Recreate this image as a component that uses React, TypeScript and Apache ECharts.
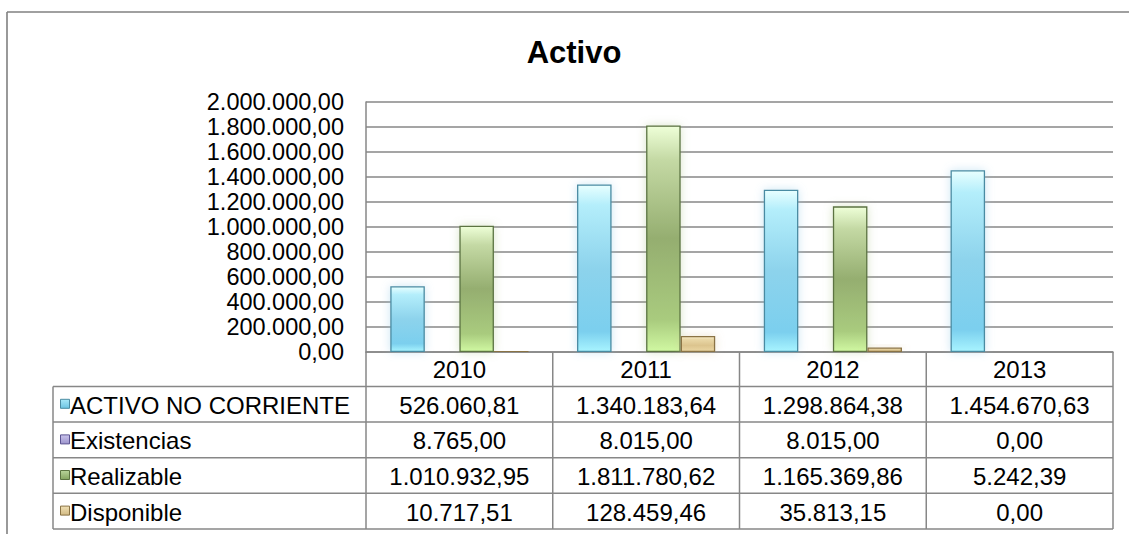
import React, { useEffect, useRef } from "react";
import * as echarts from "echarts";

const categories = ["2010", "2011", "2012", "2013"];
const seriesNames = ["ACTIVO NO CORRIENTE", "Existencias", "Realizable", "Disponible"];
const activoNoCorriente = [526060.81, 1340183.64, 1298864.38, 1454670.63];
const existencias = [8765.0, 8015.0, 8015.0, 0.0];
const realizable = [1010932.95, 1811780.62, 1165369.86, 5242.39];
const disponible = [10717.51, 128459.46, 35813.15, 0.0];
const yMin = 0;
const yMax = 2000000;
const yInterval = 200000;

const FONT = 'Arial, "Liberation Sans", sans-serif';

function fmt(v: number): string {
  const [i, d] = Math.abs(v).toFixed(2).split(".");
  const g = i.replace(/\B(?=(\d{3})+(?!\d))/g, ".");
  return (v < 0 ? "-" : "") + g + "," + d;
}

const grad = (stops: [number, string][]) => ({
  type: "linear",
  x: 0,
  y: 0,
  x2: 0,
  y2: 1,
  colorStops: stops.map(([offset, color]) => ({ offset, color })),
});

const styles = [
  {
    fill: grad([
      [0, "#e8ffff"],
      [0.12, "#b4eefb"],
      [0.5, "#8dd3ec"],
      [0.88, "#7bcfee"],
      [1, "#a8f4ff"],
    ]),
    border: "#4a8ba2",
    key: grad([[0, "#a8e8f8"], [1, "#6cc4e2"]]),
    shadow: "rgba(140,200,230,0.45)",
  },
  {
    fill: grad([
      [0, "#cfc8f0"],
      [0.5, "#a39bd0"],
      [1, "#b8b0e6"],
    ]),
    border: "#5b5391",
    key: grad([[0, "#cac4ec"], [1, "#9c94cc"]]),
    shadow: "rgba(160,150,210,0.35)",
  },
  {
    fill: grad([
      [0, "#eeffd8"],
      [0.15, "#c4d9a4"],
      [0.5, "#95ae70"],
      [0.86, "#a9cb7e"],
      [1, "#d0f8a2"],
    ]),
    border: "#5b7342",
    key: grad([[0, "#b8d49a"], [1, "#84a460"]]),
    shadow: "rgba(160,190,120,0.4)",
  },
  {
    fill: grad([
      [0, "#f7ebc6"],
      [0.2, "#e9d7a6"],
      [0.6, "#dcc48e"],
      [1, "#ead6a2"],
    ]),
    border: "#8a7344",
    key: grad([[0, "#f0e0b4"], [1, "#d2ba84"]]),
    shadow: "rgba(210,190,140,0.4)",
  },
];

const seriesData = [activoNoCorriente, existencias, realizable, disponible];

// layout
const W = 1129;
const H = 534;
const gridLeft = 366;
const gridRight = 1113;
const gridTop = 102;
const gridBottom = 352;
const tableLeft = 53;
const headerBottom = 386.5;
const rowH = 35.6;
const LINE = "#878787";
const FS = 23.5;
const FS_TABLE = 24;

export default function App() {
  const ref = useRef<HTMLDivElement>(null);
  useEffect(() => {
    if (!ref.current) return;
    const chart = echarts.init(ref.current, null, { renderer: "svg" });
    const colW = (gridRight - gridLeft) / categories.length;
    const tableBottom = headerBottom + rowH * seriesNames.length;

    const graphic: any[] = [];
    graphic.push({
      type: "line",
      shape: { x1: 7, y1: 12, x2: W, y2: 12 },
      style: { stroke: "#808080", lineWidth: 1.6 },
    });
    graphic.push({
      type: "line",
      shape: { x1: 7, y1: 12, x2: 7, y2: H },
      style: { stroke: "#808080", lineWidth: 1.6 },
    });
    graphic.push({
      type: "text",
      x: 574,
      y: 52,
      style: {
        text: "Activo",
        fill: "#000",
        fontSize: 31,
        fontWeight: "bold",
        fontFamily: FONT,
        align: "center",
        verticalAlign: "middle",
      },
    });
    graphic.push({
      type: "line",
      shape: { x1: tableLeft, y1: headerBottom, x2: gridRight, y2: headerBottom },
      style: { stroke: LINE, lineWidth: 1.5 },
    });
    for (let r = 1; r <= seriesNames.length; r++) {
      const y = headerBottom + rowH * r;
      graphic.push({
        type: "line",
        shape: { x1: tableLeft, y1: y, x2: gridRight, y2: y },
        style: { stroke: LINE, lineWidth: 1.5 },
      });
    }
    graphic.push({
      type: "line",
      shape: { x1: tableLeft, y1: headerBottom, x2: tableLeft, y2: tableBottom },
      style: { stroke: LINE, lineWidth: 1.5 },
    });
    for (let c = 0; c <= categories.length; c++) {
      const x = gridLeft + colW * c;
      graphic.push({
        type: "line",
        shape: { x1: x, y1: gridBottom, x2: x, y2: tableBottom },
        style: { stroke: LINE, lineWidth: 1.5 },
      });
    }
    seriesNames.forEach((name, r) => {
      const yc = headerBottom + rowH * r + rowH / 2;
      graphic.push({
        type: "rect",
        shape: { x: 60.5, y: yc - 5, width: 9, height: 9 },
        style: { fill: styles[r].key, stroke: styles[r].border, lineWidth: 1 },
      });
      graphic.push({
        type: "text",
        x: 70,
        y: yc + 1,
        style: {
          text: name,
          fill: "#000",
          fontSize: FS_TABLE,
          fontFamily: FONT,
          align: "left",
          verticalAlign: "middle",
        },
      });
      seriesData[r].forEach((v, c) => {
        graphic.push({
          type: "text",
          x: gridLeft + colW * c + colW / 2,
          y: yc + 1,
          style: {
            text: fmt(v),
            fill: "#000",
            fontSize: FS_TABLE,
            fontFamily: FONT,
            align: "center",
            verticalAlign: "middle",
          },
        });
      });
    });

    chart.setOption({
      animation: false,
      grid: {
        left: gridLeft,
        top: gridTop,
        width: gridRight - gridLeft,
        height: gridBottom - gridTop,
        containLabel: false,
      },
      xAxis: {
        type: "category",
        data: categories,
        axisLine: { show: true, lineStyle: { color: LINE, width: 1.5 } },
        axisTick: { show: false },
        axisLabel: {
          color: "#000",
          fontSize: FS_TABLE,
          fontFamily: FONT,
          margin: 5,
        },
        splitLine: { show: false },
      },
      yAxis: {
        type: "value",
        min: yMin,
        max: yMax,
        interval: yInterval,
        axisLine: { show: true, lineStyle: { color: LINE, width: 1.5 } },
        axisTick: { show: false },
        axisLabel: {
          color: "#000",
          fontSize: FS,
          fontFamily: FONT,
          margin: 22,
          formatter: (v: number) => fmt(v),
        },
        splitLine: { show: true, lineStyle: { color: LINE, width: 1.5 } },
      },
      series: seriesNames.map((name, i) => ({
        name,
        type: "bar",
        data: seriesData[i],
        barGap: "0%",
        barCategoryGap: "26%",
        itemStyle: {
          color: styles[i].fill,
          borderColor: styles[i].border,
          borderWidth: 1.3,
          shadowBlur: 10,
          shadowColor: styles[i].shadow,
        },
      })),
      graphic,
    });
    return () => chart.dispose();
  }, []);
  return (
    <div
      ref={ref}
      style={{ position: "fixed", left: 0, top: 0, width: W, height: H, background: "#fff" }}
    />
  );
}
